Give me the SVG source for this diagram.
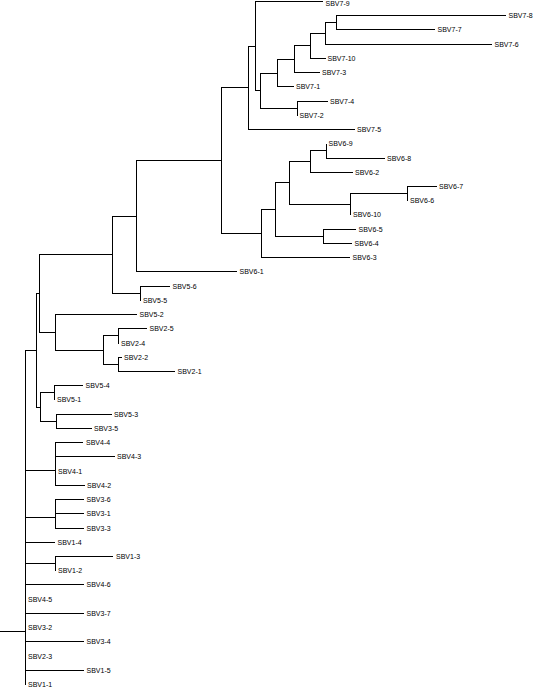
<svg xmlns="http://www.w3.org/2000/svg" width="535" height="688" viewBox="0 0 535 688">
<style>
.e{fill:none;stroke:#000;stroke-width:1;shape-rendering:crispEdges}
text{font-family:"Liberation Sans",Arial,sans-serif;font-size:7px;fill:#000}
</style>
<rect width="535" height="688" fill="#fff"/>
<g id="connectors" class="e">
<path d="M0 631.5H25.5"/>
<path d="M25.5 631.5V350.5H36.5"/>
<path d="M25.5 631.5V470.5H55.5"/>
<path d="M25.5 631.5V517.5H55.5"/>
<path d="M25.5 631.5V542.5H55"/>
<path d="M25.5 631.5V563.5H55.5"/>
<path d="M25.5 631.5V584.5H84"/>
<path d="M25.5 631.5V613.5H84"/>
<path d="M25.5 631.5V641.5H84"/>
<path d="M25.5 631.5V670.5H84"/>
<path d="M25.5 631.5V684.5"/>
<path d="M36.5 350.5V293.5H39.5"/>
<path d="M36.5 350.5V407.5H40.5"/>
<path d="M39.5 293.5V254.5H112.5"/>
<path d="M39.5 293.5V332.5H55.5"/>
<path d="M112.5 254.5V216.5H136.5"/>
<path d="M112.5 254.5V293.5H140.5"/>
<path d="M136.5 216.5V160.5H221.5"/>
<path d="M136.5 216.5V271.5H237"/>
<path d="M221.5 160.5V87.5H248.5"/>
<path d="M221.5 160.5V233.5H261.5"/>
<path d="M248.5 87.5V46.5H255.5"/>
<path d="M248.5 87.5V129.5H355"/>
<path d="M255.5 46.5V1.5H323"/>
<path d="M255.5 46.5V90.5H260.5"/>
<path d="M260.5 90.5V73.5H277.5"/>
<path d="M260.5 90.5V108.5H297.5"/>
<path d="M277.5 73.5V59.5H294.5"/>
<path d="M277.5 73.5V86.5H294"/>
<path d="M294.5 59.5V45.5H310.5"/>
<path d="M294.5 59.5V72.5H320"/>
<path d="M310.5 45.5V33.5H325.5"/>
<path d="M310.5 45.5V58.5H325.5"/>
<path d="M325.5 33.5V22.5H336.5"/>
<path d="M325.5 33.5V44.5H492"/>
<path d="M336.5 22.5V15.5H506"/>
<path d="M336.5 22.5V29.5H435"/>
<path d="M297.5 108.5V101.5H328"/>
<path d="M297.5 108.5V115.5"/>
<path d="M261.5 233.5V209.5H275.5"/>
<path d="M261.5 233.5V257.5H350"/>
<path d="M275.5 209.5V182.5H289.5"/>
<path d="M275.5 209.5V236.5H323.5"/>
<path d="M289.5 182.5V161.5H310.5"/>
<path d="M289.5 182.5V204.5H350.5"/>
<path d="M310.5 161.5V150.5H326.5"/>
<path d="M310.5 161.5V172.5H353"/>
<path d="M326.5 150.5V143.5"/>
<path d="M326.5 150.5V158.5H385"/>
<path d="M350.5 204.5V193.5H407.5"/>
<path d="M350.5 204.5V214.5"/>
<path d="M407.5 193.5V186.5H437"/>
<path d="M407.5 193.5V200.5"/>
<path d="M323.5 236.5V229.5H356"/>
<path d="M323.5 236.5V243.5H352"/>
<path d="M140.5 293.5V286.5H170"/>
<path d="M140.5 293.5V300.5"/>
<path d="M55.5 332.5V314.5H137"/>
<path d="M55.5 332.5V350.5H103.5"/>
<path d="M103.5 350.5V335.5H118.5"/>
<path d="M103.5 350.5V364.5H118.5"/>
<path d="M118.5 335.5V328.5H147"/>
<path d="M118.5 335.5V343.5"/>
<path d="M118.5 364.5V357.5H122"/>
<path d="M118.5 364.5V371.5H175"/>
<path d="M40.5 407.5V392.5H54.5"/>
<path d="M40.5 407.5V421.5H56.5"/>
<path d="M54.5 392.5V385.5H83"/>
<path d="M54.5 392.5V399.5"/>
<path d="M56.5 421.5V414.5H112"/>
<path d="M56.5 421.5V428.5H92"/>
<path d="M55.5 470.5V442.5H83"/>
<path d="M55.5 470.5V456.5H115"/>
<path d="M55.5 470.5V485.5H85"/>
<path d="M55.5 517.5V499.5H83.5"/>
<path d="M55.5 517.5V513.5H83.5"/>
<path d="M55.5 517.5V528.5H83.5"/>
<path d="M55.5 563.5V556.5H113"/>
<path d="M55.5 563.5V570.5"/>
</g>
<g id="SBV7-9"><text x="325.5" y="5.5">SBV7-9</text></g>
<g id="SBV7-8"><text x="508.5" y="18">SBV7-8</text></g>
<g id="SBV7-7"><text x="437.5" y="32">SBV7-7</text></g>
<g id="SBV7-6"><text x="494.5" y="47">SBV7-6</text></g>
<g id="SBV7-10"><text x="327.5" y="61">SBV7-10</text></g>
<g id="SBV7-3"><text x="322" y="75">SBV7-3</text></g>
<g id="SBV7-1"><text x="296" y="89">SBV7-1</text></g>
<g id="SBV7-4"><text x="330" y="104">SBV7-4</text></g>
<g id="SBV7-2"><text x="299.5" y="118">SBV7-2</text></g>
<g id="SBV7-5"><text x="357" y="132">SBV7-5</text></g>
<g id="SBV6-9"><text x="328.5" y="146">SBV6-9</text></g>
<g id="SBV6-8"><text x="387" y="161">SBV6-8</text></g>
<g id="SBV6-2"><text x="355" y="175">SBV6-2</text></g>
<g id="SBV6-7"><text x="439" y="189">SBV6-7</text></g>
<g id="SBV6-6"><text x="410" y="203">SBV6-6</text></g>
<g id="SBV6-10"><text x="353" y="217">SBV6-10</text></g>
<g id="SBV6-5"><text x="358.5" y="232">SBV6-5</text></g>
<g id="SBV6-4"><text x="354.5" y="246">SBV6-4</text></g>
<g id="SBV6-3"><text x="352.5" y="260">SBV6-3</text></g>
<g id="SBV6-1"><text x="239.5" y="274">SBV6-1</text></g>
<g id="SBV5-6"><text x="172.5" y="289">SBV5-6</text></g>
<g id="SBV5-5"><text x="143" y="303">SBV5-5</text></g>
<g id="SBV5-2"><text x="139.5" y="317">SBV5-2</text></g>
<g id="SBV2-5"><text x="149.5" y="331">SBV2-5</text></g>
<g id="SBV2-4"><text x="121" y="346">SBV2-4</text></g>
<g id="SBV2-2"><text x="124" y="360">SBV2-2</text></g>
<g id="SBV2-1"><text x="177.5" y="374">SBV2-1</text></g>
<g id="SBV5-4"><text x="85.5" y="388">SBV5-4</text></g>
<g id="SBV5-1"><text x="57" y="402">SBV5-1</text></g>
<g id="SBV5-3"><text x="114" y="417">SBV5-3</text></g>
<g id="SBV3-5"><text x="94" y="431">SBV3-5</text></g>
<g id="SBV4-4"><text x="86" y="445">SBV4-4</text></g>
<g id="SBV4-3"><text x="117" y="459">SBV4-3</text></g>
<g id="SBV4-1"><text x="58" y="474">SBV4-1</text></g>
<g id="SBV4-2"><text x="87" y="488">SBV4-2</text></g>
<g id="SBV3-6"><text x="86.5" y="502">SBV3-6</text></g>
<g id="SBV3-1"><text x="86.5" y="516">SBV3-1</text></g>
<g id="SBV3-3"><text x="86.5" y="531">SBV3-3</text></g>
<g id="SBV1-4"><text x="57.5" y="545">SBV1-4</text></g>
<g id="SBV1-3"><text x="116" y="559">SBV1-3</text></g>
<g id="SBV1-2"><text x="58" y="573">SBV1-2</text></g>
<g id="SBV4-6"><text x="86.5" y="587">SBV4-6</text></g>
<g id="SBV4-5"><text x="28" y="602">SBV4-5</text></g>
<g id="SBV3-7"><text x="86.5" y="616">SBV3-7</text></g>
<g id="SBV3-2"><text x="28" y="630">SBV3-2</text></g>
<g id="SBV3-4"><text x="86.5" y="644">SBV3-4</text></g>
<g id="SBV2-3"><text x="28" y="659">SBV2-3</text></g>
<g id="SBV1-5"><text x="86.5" y="673">SBV1-5</text></g>
<g id="SBV1-1"><text x="28" y="687">SBV1-1</text></g>
</svg>
